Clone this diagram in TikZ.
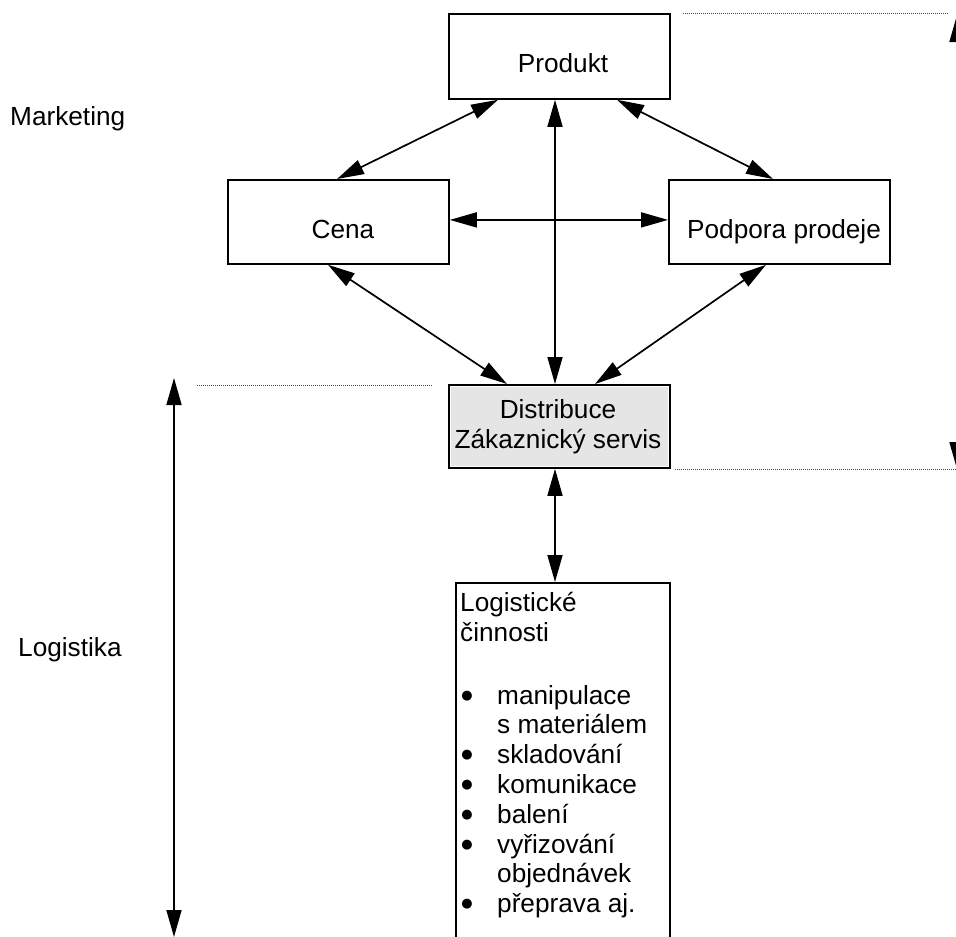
\documentclass[tikz,border=0pt]{standalone}
\usepackage{fontspec}
\setmainfont{Liberation Sans}
\newfontfamily\djvfont{DejaVu Sans}
\usetikzlibrary{arrows.meta}
\definecolor{distgray}{RGB}{229,229,229}
\begin{document}
\begin{tikzpicture}[x=1pt,y=-1pt,
  box/.style={draw, line width=1.8pt, inner sep=0pt, anchor=north west},
  lbl/.style={font=\fontsize{26.2}{29.8}\selectfont, inner sep=0pt},
  bul/.style={font=\djvfont\fontsize{13}{13}\selectfont, inner sep=0pt, anchor=base},
  biarrow/.style={line width=1.7pt, {Triangle[length=27pt,width=15pt]}-{Triangle[length=27pt,width=15pt]}},
  dots/.style={line width=0.8pt, black!70, dash pattern=on 1pt off 1pt}]
\clip (0,0) rectangle (956,937);
\fill[white] (0,0) rectangle (956,937);
% boxes
\node[box, minimum width=221pt, minimum height=85pt] (prod) at (448,13) {};
\node[box, minimum width=221pt, minimum height=84pt] (cena) at (227,179) {};
\node[box, minimum width=221pt, minimum height=84pt] (pod) at (668,179) {};
\node[box, fill=white, minimum width=221pt, minimum height=83pt] (dist) at (448,384) {};
\fill[distgray] ([shift={(2.8pt,-2.8pt)}]dist.north west) rectangle ([shift={(-2.8pt,2.8pt)}]dist.south east);
\node[box, minimum width=214pt, minimum height=400pt] (log) at (455,582) {};
% connectors
\draw[biarrow] ([xshift=50pt]prod.south west) -- ([xshift=110pt]cena.north west);
\draw[biarrow] ([xshift=169pt]prod.south west) -- ([xshift=105pt]pod.north west);
\draw[biarrow] ([xshift=107pt]prod.south west) -- ([xshift=107pt]dist.north west);
\draw[biarrow] ([yshift=2pt]cena.east) -- ([yshift=2pt]pod.west);
\draw[biarrow] ([xshift=101pt]cena.south west) -- ([xshift=59pt]dist.north west);
\draw[biarrow] ([xshift=98pt]pod.south west) -- ([xshift=147pt]dist.north west);
\draw[biarrow] ([xshift=107pt]dist.south west) -- ([xshift=100pt]log.north west);
% range arrows
\coordinate (la1) at (174,378);
\coordinate (la2) at (174,937);
\coordinate (ra1) at (957,15);
\coordinate (ra2) at (957,469);
\draw[biarrow] (la1) -- (la2);
\draw[biarrow] (ra1) -- (ra2);
% dotted guides
\draw[dots] (197,385.7) -- (433,385.7);
\draw[dots] (683,13) -- (948,13);
\draw[dots] (675,469) -- (956,469);
% labels
\node[lbl, anchor=base west] (mkt) at (10,125) {Marketing};
\node[lbl, anchor=base west] (lgs) at (18,656) {Logistika};
\node[lbl, anchor=base] (prodT) at (563,72) {Produkt};
\node[lbl, anchor=base] (cenaT) at (343,238) {Cena};
\node[lbl, anchor=base west] (podT) at (687,238) {Podpora prodeje};
\node[lbl, anchor=base] (distT1) at (558,418) {Distribuce};
\node[lbl, anchor=base] (distT2) at (558,448) {Zákaznický servis};
% logistic activities
\node[lbl, anchor=base west] (lh1) at (460,611) {Logistické};
\node[lbl, anchor=base west] (lh2) at (460,641) {činnosti};
\node[bul] (b1) at (467,699) {●};
\node[lbl, anchor=base west] (t1) at (497,704) {manipulace};
\node[lbl, anchor=base west] (t1b) at (497,733.8) {s materiálem};
\node[bul] (b2) at (467,758.6) {●};
\node[lbl, anchor=base west] (t2) at (497,763.6) {skladování};
\node[bul] (b3) at (467,788.4) {●};
\node[lbl, anchor=base west] (t3) at (497,793.4) {komunikace};
\node[bul] (b4) at (467,818.2) {●};
\node[lbl, anchor=base west] (t4) at (497,823.2) {balení};
\node[bul] (b5) at (467,848) {●};
\node[lbl, anchor=base west] (t5) at (497,853) {vyřizování};
\node[lbl, anchor=base west] (t5b) at (497,882.8) {objednávek};
\node[bul] (b6) at (467,907.6) {●};
\node[lbl, anchor=base west] (t6) at (497,912.6) {přeprava aj.};
\end{tikzpicture}
\end{document}
